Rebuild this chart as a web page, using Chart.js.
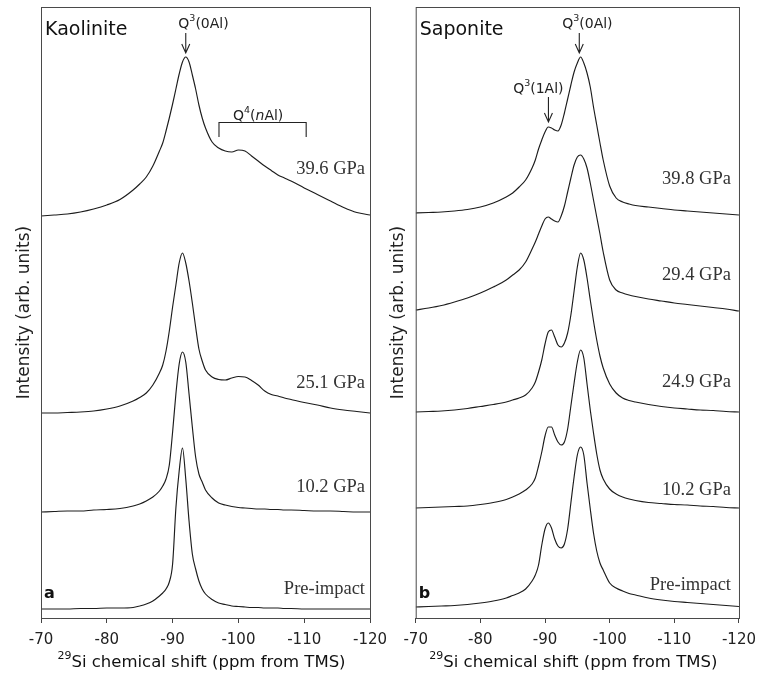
<!DOCTYPE html>
<html><head><meta charset="utf-8">
<script src="https://cdn.jsdelivr.net/npm/chart.js@4.4.0/dist/chart.umd.min.js"></script>
<style>
html,body{margin:0;padding:0;background:#fff;}
#wrap{position:relative;width:764px;height:680px;overflow:hidden;}
#c1{position:absolute;left:0;top:0;}
#c2{position:absolute;left:374px;top:0;}
</style></head><body>
<div id="wrap"><canvas id="c1" width="400" height="680"></canvas><canvas id="c2" width="390" height="680"></canvas></div>
<script>
// ---------------- DATA ----------------
// chemical shift grid (ppm from TMS)
const kaoShift = [-70,-72,-74,-76,-78,-80,-82,-84,-85,-86,-87,-88,-88.5,-89,-89.5,-90,-90.5,-91,-91.5,-92,-92.5,-93,-93.5,-94,-94.5,-95,-96,-97,-98,-99,-100,-101,-102,-103,-104,-105,-106,-107,-108,-110,-112,-114,-116,-118,-120];
const sapShift = [-70,-72,-74,-76,-78,-80,-82,-84,-85,-86,-87,-88,-88.5,-89,-89.5,-90,-90.5,-91,-91.5,-92,-92.5,-93,-93.5,-94,-94.5,-95,-95.5,-96,-96.5,-97,-97.5,-98,-98.5,-99,-100,-101,-102,-103,-104,-106,-108,-110,-112,-114,-116,-118,-120];

// Kaolinite spectra (intensity, arb. units)
const kaoPre  = [0,0,0,0.5,0.5,1,1,1.5, 3,5,8,13, 16,20,27,45,101,138,161,130,88,55,40,28,20,15, 9.5,6,4.5,3,2.5,2,1.5,1.5,1,1,1,0.5,0.5, 0,0,0,0,0,0];
const kao102  = [0,0.5,1,1,2,2.5,3.5,6, 8,11,15,21, 26,33,47,80,118,148,160,150,118,85,55,38,30,22, 14,9,7,5.5,4.5,4,3.5,3,3,2.5,2.5,2,2, 1.5,1,1,0.5,0,0];
const kao251  = [0,0,0.5,1,2,4,7,12, 15.5,20,28,40, 48,62,82,106,128,150,160,150,132,110,86,64,52,43, 36,33.5,33,35,36.5,36,32.5,28,22,18.5,17,15,13.5, 10.5,8,5,3,1.5,0];
const kao396  = [1,2,3,5,8,12,17.5,27, 33,40,51,66, 74,86,99,113,128,143,155,160,155,142,128,112,99,89, 75,69,66,65,67,66,61,56,51,46.5,42,39,36, 29,22.5,16,9.5,4.5,2];
const kaoOffsets = [9, 106, 205, 401];
const kaoLabels = ['Pre-impact', '10.2 GPa', '25.1 GPa', '39.6 GPa'];
const kaoLabelY = [29, 131, 235, 449];

// Saponite spectra (intensity, arb. units)
const sapPre  = [0,0.5,1,1.5,2.5,4,6,9, 11.5,14,18,26, 32,42,62,78,84,79,68,61,59,63,78,104,130,152,160,152,124,98,74,56,44,37, 24,19,16,13.5,12, 9,7,5.5,4.5,3.5,2.5,1.5,0.5];
const sap102  = [0,0.5,1,1.5,2,3.5,5.5,8.5, 11,14,18,24, 30,42,56,72,81,81,73,66,63,66,79,102,125,146,158,150,124,98,75,54,38,29, 19,14,11,9,7.5, 5.5,4.5,3.5,3,2,1.5,0.5,0];
const sap249  = [0,0.5,1,2,3.5,5.5,7.5,10, 12,14,17,24, 30,40,52,68,80,82,75,67,65,69,79,97,121,145,159,152,134,112,91,72,56,44, 28,19,14,11.5,10, 7.5,5.5,4,3,2,1.5,0.5,0];
const sap294  = [0,2,4.5,8,12,17,23,30, 35,40,48,61, 68,76,84,91,93,91,89,88,94,104,118,132,145,153,155,151,142,127,110,93,76,58, 30,20,17,15,13.5, 11,9,7,5.5,4,2.5,1,-1];
const sap398  = [0,0.5,1,2,3.5,6,10,16, 20,26,33,45, 53,64,73,81,86,85,83,82,88,100,114,128,141,150,156,150,140,126,106,88,70,53, 27,15,11,9,7.5, 6,4.5,3,2,1,0,-1,-2];
const sapOffsets = [11, 110, 206, 308, 405];
const sapLabels = ['Pre-impact', '10.2 GPa', '24.9 GPa', '29.4 GPa', '39.8 GPa'];
const sapLabelY = [33, 128, 236, 343, 439];

const xTicks = [-70, -80, -90, -100, -110, -120];

// ---------------- CHARTS ----------------
Chart.defaults.font.family = '"DejaVu Sans", sans-serif';
const SANS = '"DejaVu Sans", sans-serif';
const SERIF = '"Liberation Serif", "Times New Roman", serif';

function makeSets(shift, series, offsets) {
  return series.map((vals, i) => ({
    data: shift.map((s, j) => ({x: s, y: offsets[i] + vals[j]})),
    borderColor: '#1c1c1c', borderWidth: 1.15, pointRadius: 0, fill: false,
    cubicInterpolationMode: 'monotone'
  }));
}

function rich(ctx, parts, x, y, align) {
  let w = 0;
  parts.forEach(p => { ctx.font = p[1]; w += ctx.measureText(p[0]).width; });
  let cx = align === 'center' ? x - w / 2 : x;
  parts.forEach(p => { ctx.font = p[1]; ctx.fillText(p[0], cx, y + (p[2] || 0)); cx += ctx.measureText(p[0]).width; });
}

function arrow(ctx, px, y1, y2) {
  ctx.beginPath();
  ctx.moveTo(px, y1); ctx.lineTo(px, y2);
  ctx.moveTo(px - 4, y2 - 9); ctx.lineTo(px, y2); ctx.lineTo(px + 4, y2 - 9);
  ctx.stroke();
}

function panelPlugin(spec) {
  return {
    id: 'panel',
    afterDraw(chart) {
      const {ctx, chartArea: a, scales: {x, y}} = chart;
      ctx.save();
      ctx.strokeStyle = '#4a4a4a'; ctx.lineWidth = 1;
      ctx.strokeRect(a.left + 0.5, a.top + 0.5, a.right - a.left, a.bottom - a.top);
      ctx.fillStyle = '#111';
      ctx.textBaseline = 'alphabetic'; ctx.textAlign = 'left';
      ctx.font = '19px ' + SANS;
      ctx.fillText(spec.name, a.left + 4, a.top + 28);
      ctx.font = 'bold 16px ' + SANS;
      ctx.fillText(spec.letter, a.left + 3, a.bottom - 20);
      // pressure labels
      ctx.fillStyle = '#333';
      ctx.textAlign = 'right'; ctx.textBaseline = 'middle';
      ctx.font = '18.5px ' + SERIF;
      spec.labels.forEach((t, i) => ctx.fillText(t, a.right - spec.labelInset, y.getPixelForValue(spec.labelY[i])));
      // annotations
      ctx.fillStyle = '#222'; ctx.strokeStyle = '#222'; ctx.lineWidth = 1.1;
      ctx.textAlign = 'left';
      const F = '14px ' + SANS, S = '9.5px ' + SANS, I = 'italic 14px ' + SANS;
      spec.notes.forEach(n => {
        const parts = n.parts.map(p => [p[0], p[1] === 's' ? S : (p[1] === 'i' ? I : F), p[1] === 's' ? -5 : 0]);
        rich(ctx, parts, x.getPixelForValue(n.x), y.getPixelForValue(n.y), 'left');
        if (n.arrow) arrow(ctx, x.getPixelForValue(n.arrow[0]), y.getPixelForValue(n.arrow[1]), y.getPixelForValue(n.arrow[2]));
        if (n.bracket) {
          const b = n.bracket, x1 = x.getPixelForValue(b[0]), x2 = x.getPixelForValue(b[1]);
          const yt = Math.round(y.getPixelForValue(b[2])) + 0.5, yb = y.getPixelForValue(b[3]);
          ctx.beginPath(); ctx.moveTo(x1, yb); ctx.lineTo(x1, yt); ctx.lineTo(x2, yt); ctx.lineTo(x2, yb); ctx.stroke();
        }
      });
      // x axis title
      ctx.fillStyle = '#111'; ctx.textBaseline = 'alphabetic';
      rich(ctx, [['29', '11px ' + SANS, -8], ['Si chemical shift (ppm from TMS)', '16.5px ' + SANS, 0]], (a.left + a.right) / 2 - 4, 667, 'center');
      ctx.restore();
    }
  };
}

function makeChart(id, shift, series, offsets, yWidth, padRight, spec) {
  return new Chart(document.getElementById(id), {
    type: 'line',
    data: {datasets: makeSets(shift, series, offsets)},
    options: {
      responsive: false, animation: false,
      layout: {padding: {top: 7, right: padRight, left: 0, bottom: 0}},
      plugins: {legend: {display: false}, tooltip: {enabled: false}},
      scales: {
        x: {
          type: 'linear', min: -120, max: -70, reverse: true,
          afterBuildTicks: s => { s.ticks = xTicks.map(v => ({value: v})); },
          afterFit: s => { s.height = 62; },
          border: {display: false},
          grid: {drawOnChartArea: false, drawTicks: true, tickLength: 5, color: '#444', lineWidth: 1},
          ticks: {font: {size: 15, family: SANS}, color: '#222', padding: 8, maxRotation: 0}
        },
        y: {
          min: 0, max: 611,
          afterFit: s => { s.width = yWidth; },
          border: {display: false},
          grid: {display: false},
          ticks: {display: false},
          title: {display: true, text: 'Intensity (arb. units)', color: '#222', font: {size: 17, family: SANS}, padding: {top: 14, bottom: 0}}
        }
      }
    },
    plugins: [panelPlugin(spec)]
  });
}

makeChart('c1', kaoShift, [kaoPre, kao102, kao251, kao396], kaoOffsets, 41, 30, {
  name: 'Kaolinite', letter: 'a', labels: kaoLabels, labelY: kaoLabelY, labelInset: 5,
  notes: [
    {parts: [['Q', 'n'], ['3', 's'], ['(0Al)', 'n']], x: -90.87, y: 594, arrow: [-92, 585, 565]},
    {parts: [['Q', 'n'], ['4', 's'], ['(', 'n'], ['n', 'i'], ['Al)', 'n']], x: -99.18, y: 502, bracket: [-97.05, -110.3, 496, 481]}
  ]
});
makeChart('c2', sapShift, [sapPre, sap102, sap249, sap294, sap398], sapOffsets, 41.7, 18.8, {
  name: 'Saponite', letter: 'b', labels: sapLabels, labelY: sapLabelY, labelInset: 8,
  notes: [
    {parts: [['Q', 'n'], ['3', 's'], ['(0Al)', 'n']], x: -92.66, y: 594, arrow: [-95.3, 585, 565]},
    {parts: [['Q', 'n'], ['3', 's'], ['(1Al)', 'n']], x: -85.07, y: 529, arrow: [-90.53, 521, 496]}
  ]
});
</script>
</body></html>
